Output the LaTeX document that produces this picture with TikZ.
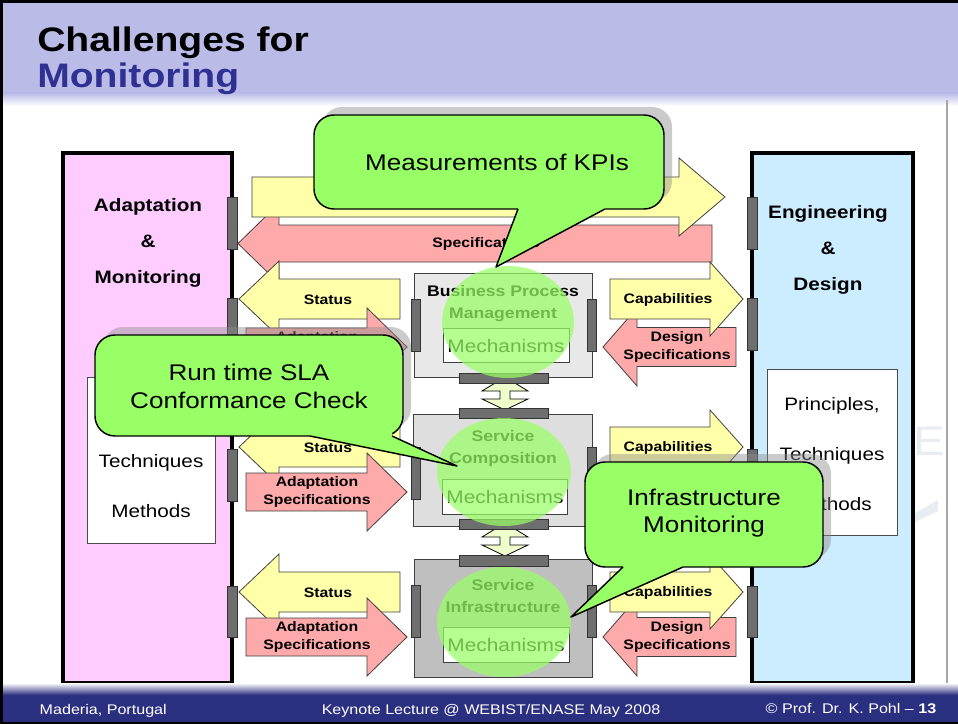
\documentclass[tikz,border=0pt]{standalone}
\usepackage{fontspec}
\setmainfont{Liberation Sans}[FakeStretch=1.15]

\definecolor{headblue}{HTML}{BBBBE8}
\definecolor{titlenavy}{HTML}{2E3192}
\definecolor{footblue}{HTML}{2B2F80}
\definecolor{ampink}{HTML}{FFCCFF}
\definecolor{edblue}{HTML}{CCECFF}
\definecolor{arrpink}{HTML}{FFAAAA}
\definecolor{arryellow}{HTML}{FFFFAA}
\definecolor{tabgray}{HTML}{6E6E6E}
\definecolor{kpigreen}{HTML}{99FF66}
\definecolor{updown}{HTML}{EEFFCC}
\definecolor{wmgray}{HTML}{E8ECF3}

\tikzset{
  mainbox/.style={draw=black, line width=3pt},
  whitebox/.style={fill=white, draw=black!70, line width=0.6pt},
  yellowarr/.style={fill=arryellow, draw=black!75, line width=0.6pt},
  pinkarr/.style={fill=arrpink, draw=black!75, line width=0.6pt},
  arrlabel/.style={font=\fontsize{10.3}{14}\selectfont\bfseries, align=center},
  boxtitle/.style={font=\fontsize{13.5}{27}\selectfont\bfseries, align=center},
  sidetext/.style={font=\fontsize{13.5}{37.5}\selectfont, align=center},
  compbox/.style={draw=black!75, line width=0.7pt},
  mechbox/.style={fill=white, draw=black!75, line width=0.6pt},
  comptitle/.style={font=\fontsize{11.5}{16}\selectfont\bfseries, align=center},
  mechtext/.style={font=\fontsize{13.6}{16}\selectfont},
  tabbox/.style={fill=tabgray, draw=black!80, line width=0.5pt},
  updownarr/.style={fill=updown, draw=black, line width=0.6pt},
  hilite/.style={fill=kpigreen, fill opacity=0.72},
  callout/.style={fill=kpigreen, draw=black, line width=1.1pt, rounded corners=15pt},
  callshadow/.style={fill=black!45, opacity=0.45},
  pointer/.style={draw=black, line width=1.1pt, line join=round},
  calltext/.style={font=\fontsize{17}{20.5}\selectfont, align=center},
  foottext/.style={text=white, font=\fontsize{10.5}{12}\selectfont}
}

\newcommand{\blockarrow}[7]{%
  \draw[#1] (#2,#5-#6) -- (#3,#5-#6) -- (#3,#5-#7) -- (#4,#5)
    -- (#3,#5+#7) -- (#3,#5+#6) -- (#2,#5+#6) -- cycle;}

\begin{document}
\begin{tikzpicture}[x=0.75pt, y=-0.75pt]
\useasboundingbox (0,0) rectangle (958,724);
\fill[white] (0,0) rectangle (958,724);

\fill[headblue] (0,0) rectangle (958,93);
\shade[top color=headblue, bottom color=white] (0,93) rectangle (958,106);
\fill[black] (0,0) rectangle (958,3);
\fill[black] (0,0) rectangle (3,724);
\node[anchor=base west, inner sep=0pt, font=\fontsize{25.5}{27}\selectfont\bfseries] (title1) at (37,52) {Challenges for};
\node[anchor=base west, inner sep=0pt, text=titlenavy, font=\fontsize{25.5}{27}\selectfont\bfseries] (title2) at (37,88) {Monitoring};

\node[text=wmgray, font=\fontsize{31}{31}\selectfont] (wmark) at (929,441) {E};
\fill[wmgray] (900,521) .. controls (915,513) and (928,506) .. (938,500) -- (938,511) .. controls (928,516) and (915,522) .. (902,528) -- cycle;
\draw[black!35, line width=0.8pt] (947,100) -- (947,688);

\draw[mainbox, fill=ampink] (63,153) rectangle (232,683);
\draw[mainbox, fill=edblue] (752,153) rectangle (913,683);
\node[boxtitle] (amtitle) at (148,243) {Adaptation\\\&\\Monitoring};
\node[boxtitle] (edtitle) at (828,250) {Engineering\\\&\\Design};
\draw[whitebox] (87,377) rectangle (215,543);
\draw[whitebox] (767,369) rectangle (897,535);
\node[sidetext] (amtools) at (151,486) {Techniques\\Methods};
\node[sidetext] (edtools) at (832,454) {Principles,\\Techniques\\Methods};

\blockarrow{pinkarr}{712}{279}{238}{243.5}{18.5}{40}
\blockarrow{yellowarr}{252}{679}{725}{197}{20}{39}
\node[arrlabel] (speclabel) at (486,244) {Specifications};

\foreach \ys/\ya [count=\i] in {299/347, 447/492, 592/637} {
  \blockarrow{yellowarr}{400}{279}{239}{\ys}{20}{38}
  \node[arrlabel] (status\i) at (328,\ys+1) {Status};
  \blockarrow{pinkarr}{246}{367}{407}{\ya}{19}{39}
  \node[arrlabel] (adaptspec\i) at (317,\ya) {Adaptation\\Specifications};
  \blockarrow{pinkarr}{736}{637}{603}{\ya}{19.5}{39}
  \blockarrow{yellowarr}{610}{710}{743}{\ys}{20}{37}
  \node[arrlabel] (capab\i) at (668,\ys+1) {Capabilities};
}
\node[arrlabel] (designspec1) at (677,347) {Design\\Specifications};
\node[arrlabel] (designspec3) at (677,637) {Design\\Specifications};

\draw[compbox, fill=black!9] (414,273) rectangle (592,377);
\draw[mechbox] (443,328) rectangle (569,362);
\node[comptitle] (bpm) at (503,303.5) {Business Process\\Management};
\node[mechtext] (mech1) at (506,346) {Mechanisms};

\draw[compbox, fill=black!13] (413,414) rectangle (592,526);
\draw[mechbox] (442,479) rectangle (567,514);
\node[comptitle] (scomp) at (503,448.5) {Service\\Composition};
\node[mechtext] (mech2) at (505,497) {Mechanisms};

\draw[compbox, fill=black!25] (414,559) rectangle (592,677);
\draw[mechbox] (443,627) rectangle (569,662);
\node[comptitle] (sinfra) at (503,596) {Service\\Infrastructure};
\node[mechtext] (mech3) at (506,645) {Mechanisms};

\foreach \g in {383, 529} {
  \draw[updownarr] (505,\g-6) -- (528,\g+8) -- (510,\g+8) -- (510,\g+16) -- (528,\g+16) -- (505,\g+27)
    -- (482,\g+16) -- (500,\g+16) -- (500,\g+8) -- (482,\g+8) -- cycle;
}

\foreach \ya/\yb in {197/249, 298/350, 449/501, 586/637} {
  \draw[tabbox] (227,\ya) rectangle (237,\yb);
  \draw[tabbox] (747,\ya) rectangle (757,\yb);
}
\foreach \ya/\yb in {299/351, 447/499, 585/637} {
  \draw[tabbox] (411,\ya) rectangle (420,\yb);
  \draw[tabbox] (587,\ya) rectangle (596,\yb);
}
\foreach \ya/\yb in {373/383, 408/418, 519/529, 555/566} {
  \draw[tabbox] (459,\ya) rectangle (548,\yb);
}

\fill[hilite] (508,322) ellipse [x radius=66, y radius=56];
\fill[hilite] (504,472) ellipse [x radius=67, y radius=54];
\fill[hilite] (504,622) ellipse [x radius=67, y radius=55];

% callouts
\fill[callshadow, rounded corners=15pt] (322,107) rectangle (672,201);
\draw[callout] (314,115) rectangle (664,209);
\fill[kpigreen] (518,209) -- (496,267) -- (605,209) -- (605,200) -- (518,200) -- cycle;
\draw[pointer] (518,209) -- (496,267) -- (605,209);
\node[calltext] (kpi) at (497,162) {Measurements of KPIs};

\fill[callshadow, rounded corners=15pt] (103,327) rectangle (411,428);
\draw[callout] (95,335) rectangle (403,436);
\fill[kpigreen] (310,436) -- (457,466) -- (392,436) -- (392,428) -- (310,428) -- cycle;
\draw[pointer] (310,436) -- (457,466) -- (392,436);
\node[calltext] (sla) at (249,386.5) {Run time SLA\\Conformance Check};

\fill[callshadow, rounded corners=15pt] (593,454) rectangle (831,559);
\draw[callout] (585,462) rectangle (823,567);
\fill[kpigreen] (623,567) -- (571,617) -- (683,567) -- (683,559) -- (623,559) -- cycle;
\draw[pointer] (623,567) -- (571,617) -- (683,567);
\node[calltext] (infra) at (704,513) {Infrastructure\\Monitoring};

\shade[top color=white, bottom color=footblue] (3,683) rectangle (958,695);
\fill[footblue] (3,695) rectangle (958,722);
\fill[black] (0,722) rectangle (958,724);
\node[foottext, anchor=west] (place) at (35,711) {Maderia, Portugal};
\node[foottext] (event) at (491,711) {Keynote Lecture @ WEBIST/ENASE May 2008};
\node[foottext, anchor=east] (author) at (941,709) {© Prof. Dr. K. Pohl – \textbf{13}};
\end{tikzpicture}
\end{document}
